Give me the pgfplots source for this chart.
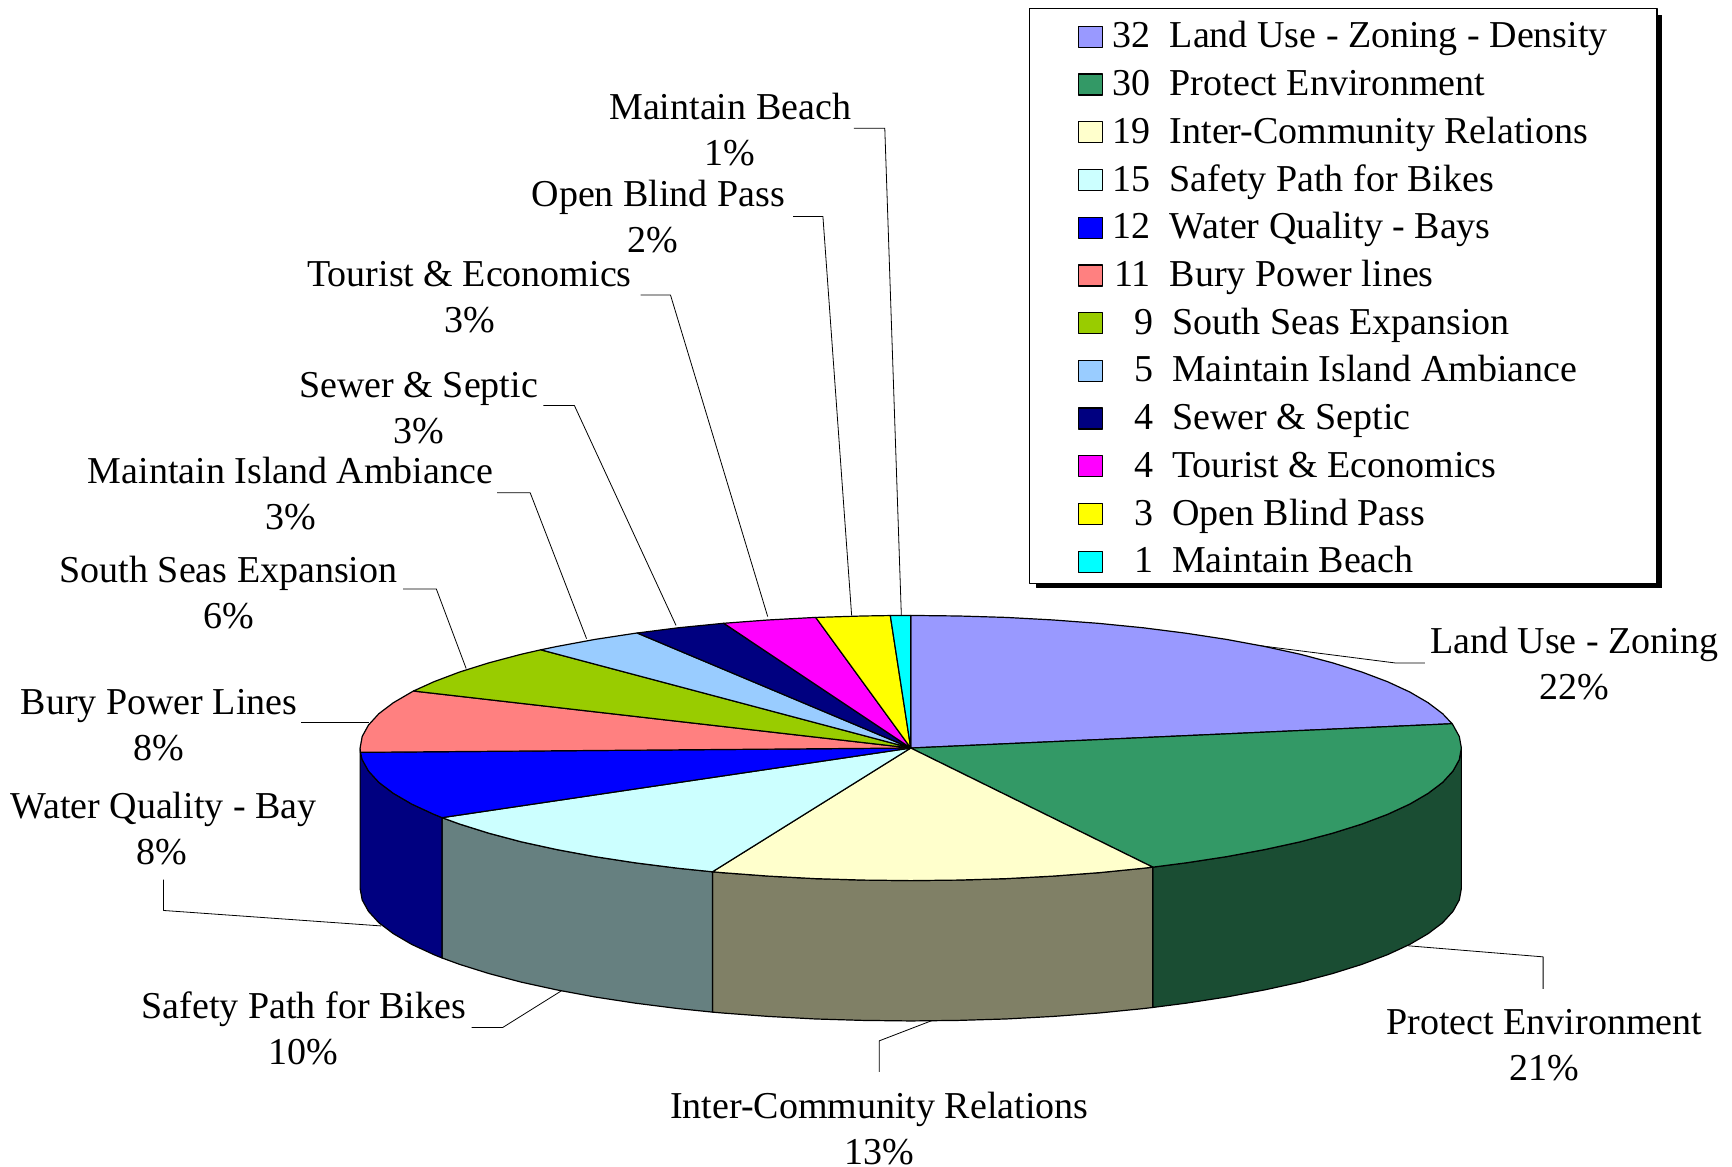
\documentclass[border=0pt]{standalone}
\usepackage{pgfplots}
\pgfplotsset{compat=1.18}
\usepackage{fontspec}
\setmainfont{Liberation Serif}
\newcommand\lbl{\fontsize{19}{23}\selectfont}
\newcommand\legA[2]{\makebox[16.6pt][r]{#1}\hspace{9.5pt}#2}
\newcommand\legB[2]{\makebox[17.7pt][r]{#1}\hspace{9.5pt}#2}
\definecolor{cA}{HTML}{9999FF}
\definecolor{cB}{HTML}{339966}
\definecolor{cC}{HTML}{FFFFCC}
\definecolor{cD}{HTML}{CCFFFF}
\definecolor{cE}{HTML}{0000FF}
\definecolor{cF}{HTML}{FF8080}
\definecolor{cG}{HTML}{99CC00}
\definecolor{cH}{HTML}{99CCFF}
\definecolor{cI}{HTML}{000080}
\definecolor{cJ}{HTML}{FF00FF}
\definecolor{cK}{HTML}{FFFF00}
\definecolor{cL}{HTML}{00FFFF}
\definecolor{sB}{HTML}{1A4D33}
\definecolor{sC}{HTML}{808066}
\definecolor{sD}{HTML}{668080}
\definecolor{sE}{HTML}{000080}
\begin{document}
\begin{tikzpicture}
\begin{axis}[
  scale only axis, width=866pt, height=583.4pt,
  xmin=-824.5, xmax=743.5, ymin=-379, ymax=677,
  hide axis, clip=false, no markers,
  every axis plot/.append style={line join=round},
  legend image code/.code={\path[#1] (0pt,-4.2pt) rectangle (12pt,6.3pt);},
  legend cell align=left,
  legend style={draw=none, fill=none, inner sep=0pt, outer sep=0pt,
    at={(0.6224,0.9812)}, anchor=north west, font=\lbl,
    /tikz/row sep=6.86pt, /tikz/column sep=7.2pt,
    nodes={inner sep=0pt, outer sep=0pt, text height=13pt, text depth=4pt}},
]
\path (axis cs:-824.5,-379) rectangle (axis cs:743.5,677);
% legend shadow and frame
\addplot[forget plot, fill=black, draw=black] coordinates {(114,663)(680,663)(680,145)(114,145)(114,663)};
\addplot[forget plot, fill=white, draw=black, line width=0.6pt] coordinates {(107.5,669)(675.5,669)(675.5,149)(107.5,149)(107.5,669)};
% leader lines
\addplot[forget plot, draw=black, line width=0.4pt] coordinates {(305.5,94)(438.5,77)(465.5,77)};
\addplot[forget plot, draw=black, line width=0.4pt] coordinates {(450.5,-179)(572.5,-189)(572.5,-218)};
\addplot[forget plot, draw=black, line width=0.4pt] coordinates {(23.5,-245)(-28.5,-265)(-28.5,-293)};
\addplot[forget plot, draw=black, line width=0.4pt] coordinates {(-313.5,-218)(-369.5,-253)(-397.5,-253)};
\addplot[forget plot, draw=black, line width=0.4pt] coordinates {(-479.5,-161)(-676.5,-147)(-676.5,-119)};
\addplot[forget plot, draw=black, line width=0.4pt] coordinates {(-552,23)(-490,23)};
\addplot[forget plot, draw=black, line width=0.4pt] coordinates {(-459.5,144)(-429.5,144)(-402.5,72)};
\addplot[forget plot, draw=black, line width=0.4pt] coordinates {(-374.5,231)(-344.5,231)(-293.5,99)};
\addplot[forget plot, draw=black, line width=0.4pt] coordinates {(-332.5,310)(-304.5,310)(-212.5,111)};
\addplot[forget plot, draw=black, line width=0.4pt] coordinates {(-244.5,410)(-217.5,410)(-129.5,119)};
\addplot[forget plot, draw=black, line width=0.4pt] coordinates {(-106.5,481)(-79.5,481)(-53.5,120)};
\addplot[forget plot, draw=black, line width=0.4pt] coordinates {(-51.5,561)(-23.5,561)(-8.5,120)};
% side walls
\addplot[forget plot, fill=sB, draw=black, line width=0.6pt] coordinates {(498.5,0)(496.6,-10.5)(490.9,-20.8)(481.5,-31.1)(468.4,-41)(451.8,-50.7)(431.7,-60)(408.4,-68.8)(381.9,-77.1)(352.5,-84.9)(320.4,-91.9)(285.9,-98.3)(249.3,-103.9)(219.1,-107.8)(219.1,-234.8)(249.3,-230.9)(285.9,-225.3)(320.4,-218.9)(352.5,-211.9)(381.9,-204.1)(408.4,-195.8)(431.7,-187)(451.8,-177.7)(468.4,-168)(481.5,-158.1)(490.9,-147.8)(496.6,-137.5)(498.5,-127)(498.5,0)};
\addplot[forget plot, fill=sC, draw=black, line width=0.6pt] coordinates {(219.1,-107.8)(210.7,-108.8)(170.5,-112.8)(129,-115.9)(86.6,-118.2)(43.4,-119.5)(0,-120)(-43.4,-119.5)(-86.6,-118.2)(-129,-115.9)(-170.5,-112.8)(-179.5,-112)(-179.5,-239)(-170.5,-239.8)(-129,-242.9)(-86.6,-245.2)(-43.4,-246.5)(0,-247)(43.4,-246.5)(86.6,-245.2)(129,-242.9)(170.5,-239.8)(210.7,-235.8)(219.1,-234.8)(219.1,-107.8)};
\addplot[forget plot, fill=sD, draw=black, line width=0.6pt] coordinates {(-179.5,-112)(-210.7,-108.8)(-249.3,-103.9)(-285.9,-98.3)(-320.4,-91.9)(-352.5,-84.9)(-381.9,-77.1)(-408.4,-68.8)(-424.3,-63)(-424.3,-190)(-408.4,-195.8)(-381.9,-204.1)(-352.5,-211.9)(-320.4,-218.9)(-285.9,-225.3)(-249.3,-230.9)(-210.7,-235.8)(-179.5,-239)(-179.5,-112)};
\addplot[forget plot, fill=sE, draw=black, line width=0.6pt] coordinates {(-424.3,-63)(-431.7,-60)(-451.8,-50.7)(-468.4,-41)(-481.5,-31.1)(-490.9,-20.8)(-496.6,-10.5)(-498.2,-3.9)(-498.5,0)(-498.5,-127)(-496.6,-137.5)(-490.9,-147.8)(-481.5,-158.1)(-468.4,-168)(-451.8,-177.7)(-431.7,-187)(-424.3,-190)(-424.3,-63)};
% top wedges
\addplot[fill=cA, draw=black, line width=0.6pt] coordinates {(0,0)(0,120)(43.4,119.5)(86.6,118.2)(129,115.9)(170.5,112.8)(210.7,108.8)(249.3,103.9)(285.9,98.3)(320.4,91.9)(352.5,84.9)(381.9,77.1)(408.4,68.8)(431.7,60)(451.8,50.7)(468.4,41)(481.5,31.1)(490.1,22)(0,0)};
\addlegendentry{\legA{32}{Land Use - Zoning - Density}}
\addplot[fill=cB, draw=black, line width=0.6pt] coordinates {(0,0)(490.1,22)(490.9,20.8)(496.6,10.5)(498.5,0)(496.6,-10.5)(490.9,-20.8)(481.5,-31.1)(468.4,-41)(451.8,-50.7)(431.7,-60)(408.4,-68.8)(381.9,-77.1)(352.5,-84.9)(320.4,-91.9)(285.9,-98.3)(249.3,-103.9)(219.1,-107.8)(0,0)};
\addlegendentry{\legA{30}{Protect Environment}}
\addplot[fill=cC, draw=black, line width=0.6pt] coordinates {(0,0)(219.1,-107.8)(210.7,-108.8)(170.5,-112.8)(129,-115.9)(86.6,-118.2)(43.4,-119.5)(0,-120)(-43.4,-119.5)(-86.6,-118.2)(-129,-115.9)(-170.5,-112.8)(-179.5,-112)(0,0)};
\addlegendentry{\legA{19}{Inter-Community Relations}}
\addplot[fill=cD, draw=black, line width=0.6pt] coordinates {(0,0)(-179.5,-112)(-210.7,-108.8)(-249.3,-103.9)(-285.9,-98.3)(-320.4,-91.9)(-352.5,-84.9)(-381.9,-77.1)(-408.4,-68.8)(-424.3,-63)(0,0)};
\addlegendentry{\legA{15}{Safety Path for Bikes}}
\addplot[fill=cE, draw=black, line width=0.6pt] coordinates {(0,0)(-424.3,-63)(-431.7,-60)(-451.8,-50.7)(-468.4,-41)(-481.5,-31.1)(-490.9,-20.8)(-496.6,-10.5)(-498.2,-3.9)(0,0)};
\addlegendentry{\legA{12}{Water Quality - Bays}}
\addplot[fill=cF, draw=black, line width=0.6pt] coordinates {(0,0)(-498.2,-3.9)(-498.5,0)(-496.6,10.5)(-490.9,20.8)(-481.5,31.1)(-468.4,41)(-451.8,50.7)(-450.2,51.6)(0,0)};
\addlegendentry{\legA{11}{Bury Power lines}}
\addplot[fill=cG, draw=black, line width=0.6pt] coordinates {(0,0)(-450.2,51.6)(-431.7,60)(-408.4,68.8)(-381.9,77.1)(-352.5,84.9)(-334.9,88.9)(0,0)};
\addlegendentry{\legB{9}{South Seas Expansion}}
\addplot[fill=cH, draw=black, line width=0.6pt] coordinates {(0,0)(-334.9,88.9)(-320.4,91.9)(-285.9,98.3)(-249.3,103.9)(-247.7,104.1)(0,0)};
\addlegendentry{\legB{5}{Maintain Island Ambiance}}
\addplot[fill=cI, draw=black, line width=0.6pt] coordinates {(0,0)(-247.7,104.1)(-210.7,108.8)(-170.5,112.8)(-169.3,112.9)(0,0)};
\addlegendentry{\legB{4}{Sewer \& Septic}}
\addplot[fill=cJ, draw=black, line width=0.6pt] coordinates {(0,0)(-169.3,112.9)(-129,115.9)(-86.6,118.2)(-86,118.2)(0,0)};
\addlegendentry{\legB{4}{Tourist \& Economics}}
\addplot[fill=cK, draw=black, line width=0.6pt] coordinates {(0,0)(-86,118.2)(-43.4,119.5)(-18.5,119.9)(0,0)};
\addlegendentry{\legB{3}{Open Blind Pass}}
\addplot[fill=cL, draw=black, line width=0.6pt] coordinates {(0,0)(-18.5,119.9)(0,120)(0,0)};
\addlegendentry{\legB{1}{Maintain Beach}}
% labels
\tikzset{lab/.style={align=center, font=\lbl, inner sep=0pt}}
\node[lab] at (axis cs:600.5,76) {Land Use - Zoning\\22\%};
\node[lab] at (axis cs:573.5,-269) {Protect Environment\\21\%};
\node[lab] at (axis cs:-28.5,-344) {Inter-Community Relations\\13\%};
\node[lab] at (axis cs:-549.5,-254) {Safety Path for Bikes\\10\%};
\node[lab] at (axis cs:-676.5,-73) {Water Quality - Bay\\\hspace*{-2pt}8\%};
\node[lab] at (axis cs:-680.5,21) {Bury Power Lines\\8\%};
\node[lab] at (axis cs:-617.5,141) {South Seas Expansion\\6\%};
\node[lab] at (axis cs:-561.5,230) {Maintain Island Ambiance\\3\%};
\node[lab] at (axis cs:-445.5,308) {Sewer \& Septic\\3\%};
\node[lab] at (axis cs:-399.5,408) {Tourist \& Economics\\3\%};
\node[lab] at (axis cs:-228.5,481) {Open Blind Pass\\\hspace*{-5.6pt}2\%};
\node[lab] at (axis cs:-163.5,560) {Maintain Beach\\1\%};
\end{axis}
\end{tikzpicture}
\end{document}
